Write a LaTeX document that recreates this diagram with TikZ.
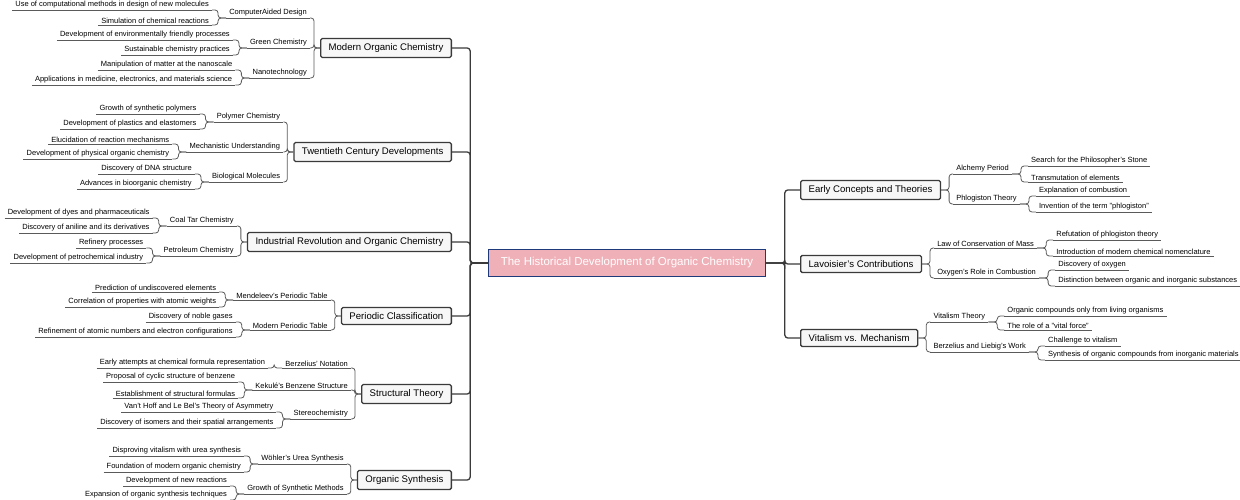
\documentclass[tikz,border=0pt]{standalone}
\usepackage{fontspec}
\setmainfont{Liberation Sans}
\usetikzlibrary{calc}
\definecolor{rootfill}{HTML}{EFB0B8}
\definecolor{rootline}{HTML}{1F3A7A}
\definecolor{boxfill}{HTML}{F7F7F7}
\definecolor{darkline}{HTML}{3A3A3A}
\definecolor{thinline}{HTML}{5A5A5A}
\tikzset{
  rootbox/.style={draw=rootline, fill=rootfill, line width=1.2pt, text=white,
    font=\fontsize{11.5}{13}\selectfont, inner xsep=12pt, inner ysep=8pt},
  topicbox/.style={draw=darkline, fill=boxfill, line width=1.3pt, rounded corners=1.5pt,
    font=\fontsize{9.6}{11}\selectfont, inner xsep=8pt, inner ysep=5pt},
  ulabel/.style={font=\fontsize{7.5}{8}\selectfont, inner xsep=3pt, inner ysep=1.5pt,
    append after command={(\tikzlastnode.south west) edge[thinline, line width=0.8pt] (\tikzlastnode.south east)}},
  trunk/.style={darkline, line width=1.3pt, rounded corners=3pt},
  twig/.style={thinline, line width=0.8pt, rounded corners=3pt},
}
% left side: sub label and its leaves
\newcommand{\lsub}[4]{%
  \node[ulabel, anchor=south east, xshift=-10pt] (#1) at (#2.west |- 0,#3) {#4};
  \draw[twig] (#2.west) -- ++(-6,0) |- (#1.south east);}
\newcommand{\lleaf}[4]{%
  \node[ulabel, anchor=south east, xshift=-14pt] (#1) at (#2.south west |- 0,#3) {#4};
  \draw[twig] (#2.south west) -- ++(-8,0) |- (#1.south east);}
% right side
\newcommand{\rsub}[4]{%
  \node[ulabel, anchor=south west, xshift=12pt] (#1) at (#2.east |- 0,#3) {#4};
  \draw[twig] (#2.east) -- ++(8,0) |- (#1.south west);}
\newcommand{\rleaf}[4]{%
  \node[ulabel, anchor=south west, xshift=16pt] (#1) at (#2.south east |- 0,#3) {#4};
  \draw[twig] (#2.south east) -- ++(9,0) |- (#1.south west);}
\begin{document}
\begin{tikzpicture}[x=1pt, y=-1pt]
\useasboundingbox (0,0) rectangle (1240,500);
\node[rootbox] (root) at (627,263) {The Historical Development of Organic Chemistry};

% left topics
\node[topicbox, anchor=east] (modern) at (452,48) {Modern Organic Chemistry};
\node[topicbox, anchor=east] (twentieth) at (452,152) {Twentieth Century Developments};
\node[topicbox, anchor=east] (industrial) at (452,242) {Industrial Revolution and Organic Chemistry};
\node[topicbox, anchor=east] (periodic) at (452,316) {Periodic Classification};
\node[topicbox, anchor=east] (structural) at (452,394) {Structural Theory};
\node[topicbox, anchor=east] (synthesis) at (452,480) {Organic Synthesis};
\foreach \t in {modern,twentieth,industrial,periodic,structural,synthesis}
  \draw[trunk] (root.west) -- ++(-18,0) |- (\t.east);

% right topics
\node[topicbox, anchor=west] (early) at (800,190) {Early Concepts and Theories};
\node[topicbox, anchor=west] (lavoisier) at (800,264) {Lavoisier's Contributions};
\node[topicbox, anchor=west] (vitalism) at (800,338) {Vitalism vs. Mechanism};
\foreach \t in {early,lavoisier,vitalism}
  \draw[trunk] (root.east) -- ++(19,0) |- (\t.west);

% Modern Organic Chemistry
\lsub{cad}{modern}{18}{ComputerAided Design}
\lleaf{cad1}{cad}{10}{Use of computational methods in design of new molecules}
\lleaf{cad2}{cad}{25}{Simulation of chemical reactions}
\lsub{green}{modern}{48}{Green Chemistry}
\lleaf{green1}{green}{40}{Development of environmentally friendly processes}
\lleaf{green2}{green}{55}{Sustainable chemistry practices}
\lsub{nano}{modern}{78}{Nanotechnology}
\lleaf{nano1}{nano}{70}{Manipulation of matter at the nanoscale}
\lleaf{nano2}{nano}{85}{Applications in medicine, electronics, and materials science}

% Twentieth Century Developments
\lsub{polymer}{twentieth}{122}{Polymer Chemistry}
\lleaf{polymer1}{polymer}{114}{Growth of synthetic polymers}
\lleaf{polymer2}{polymer}{129}{Development of plastics and elastomers}
\lsub{mech}{twentieth}{152}{Mechanistic Understanding}
\lleaf{mech1}{mech}{144}{Elucidation of reaction mechanisms}
\lleaf{mech2}{mech}{159}{Development of physical organic chemistry}
\lsub{bio}{twentieth}{182}{Biological Molecules}
\lleaf{bio1}{bio}{174}{Discovery of DNA structure}
\lleaf{bio2}{bio}{189}{Advances in bioorganic chemistry}

% Industrial Revolution
\lsub{coal}{industrial}{226}{Coal Tar Chemistry}
\lleaf{coal1}{coal}{218}{Development of dyes and pharmaceuticals}
\lleaf{coal2}{coal}{233}{Discovery of aniline and its derivatives}
\lsub{petro}{industrial}{256}{Petroleum Chemistry}
\lleaf{petro1}{petro}{248}{Refinery processes}
\lleaf{petro2}{petro}{263}{Development of petrochemical industry}

% Periodic Classification
\lsub{mendeleev}{periodic}{300}{Mendeleev's Periodic Table}
\lleaf{mendeleev1}{mendeleev}{292}{Prediction of undiscovered elements}
\lleaf{mendeleev2}{mendeleev}{307}{Correlation of properties with atomic weights}
\lsub{modtable}{periodic}{330}{Modern Periodic Table}
\lleaf{modtable1}{modtable}{322}{Discovery of noble gases}
\lleaf{modtable2}{modtable}{337}{Refinement of atomic numbers and electron configurations}

% Structural Theory
\lsub{notation}{structural}{368}{Berzelius' Notation}
\lleaf{notation1}{notation}{368}{Early attempts at chemical formula representation}
\lsub{kekule}{structural}{390}{Kekulé's Benzene Structure}
\lleaf{kekule1}{kekule}{382}{Proposal of cyclic structure of benzene}
\lleaf{kekule2}{kekule}{398}{Establishment of structural formulas}
\lsub{stereo}{structural}{419}{Stereochemistry}
\lleaf{stereo1}{stereo}{412}{Van't Hoff and Le Bel's Theory of Asymmetry}
\lleaf{stereo2}{stereo}{428}{Discovery of isomers and their spatial arrangements}

% Organic Synthesis
\lsub{wohler}{synthesis}{464}{Wöhler's Urea Synthesis}
\lleaf{wohler1}{wohler}{456}{Disproving vitalism with urea synthesis}
\lleaf{wohler2}{wohler}{472}{Foundation of modern organic chemistry}
\lsub{methods}{synthesis}{494}{Growth of Synthetic Methods}
\lleaf{methods1}{methods}{486}{Development of new reactions}
\lleaf{methods2}{methods}{500}{Expansion of organic synthesis techniques}

% Early Concepts and Theories
\rsub{alchemy}{early}{174}{Alchemy Period}
\rleaf{alchemy1}{alchemy}{166}{Search for the Philosopher's Stone}
\rleaf{alchemy2}{alchemy}{182}{Transmutation of elements}
\rsub{phlog}{early}{204}{Phlogiston Theory}
\rleaf{phlog1}{phlog}{196}{Explanation of combustion}
\rleaf{phlog2}{phlog}{212}{Invention of the term "phlogiston"}

% Lavoisier's Contributions
\rsub{mass}{lavoisier}{248}{Law of Conservation of Mass}
\rleaf{mass1}{mass}{240}{Refutation of phlogiston theory}
\rleaf{mass2}{mass}{256}{Introduction of modern chemical nomenclature}
\rsub{oxygen}{lavoisier}{278}{Oxygen's Role in Combustion}
\rleaf{oxygen1}{oxygen}{270}{Discovery of oxygen}
\rleaf{oxygen2}{oxygen}{286}{Distinction between organic and inorganic substances}

% Vitalism vs. Mechanism
\rsub{vtheory}{vitalism}{322}{Vitalism Theory}
\rleaf{vtheory1}{vtheory}{316}{Organic compounds only from living organisms}
\rleaf{vtheory2}{vtheory}{330}{The role of a "vital force"}
\rsub{liebig}{vitalism}{352}{Berzelius and Liebig's Work}
\rleaf{liebig1}{liebig}{346}{Challenge to vitalism}
\rleaf{liebig2}{liebig}{360}{Synthesis of organic compounds from inorganic materials}
\end{tikzpicture}
\end{document}
